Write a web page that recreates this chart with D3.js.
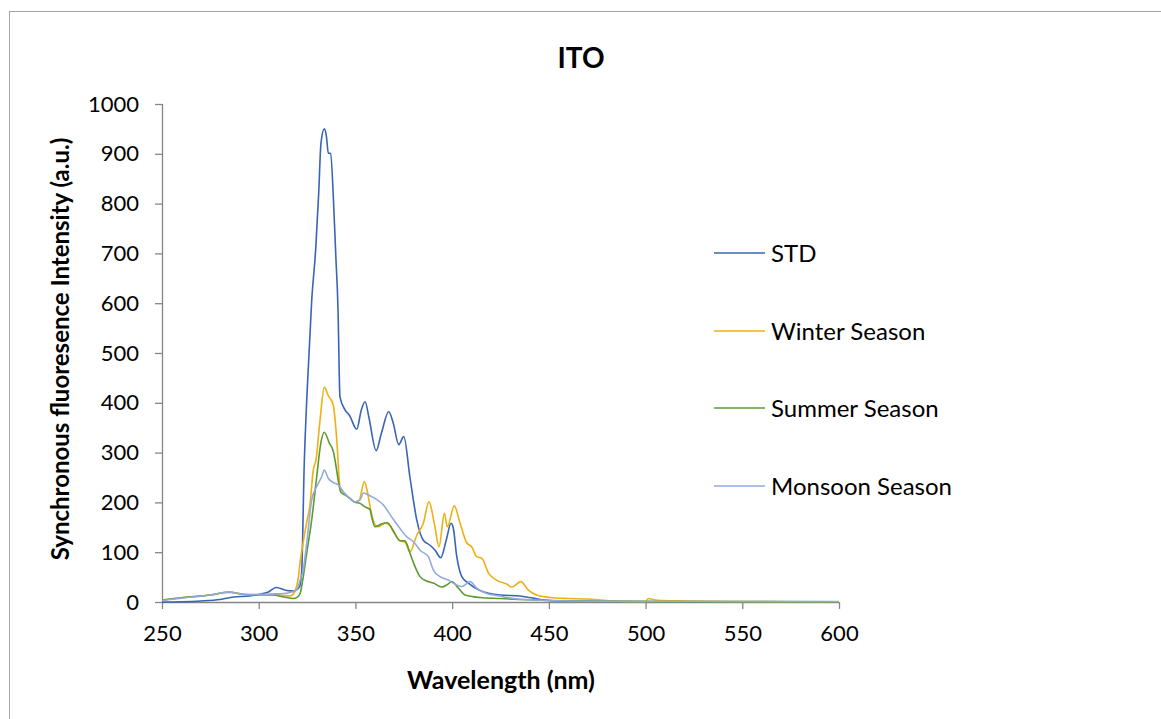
<!DOCTYPE html>
<html><head><meta charset="utf-8">
<script src="https://cdn.jsdelivr.net/npm/d3@7"></script>
<style>body{margin:0;background:#fff}svg{display:block}text{font-family:Lato,"Open Sans",sans-serif}</style>
</head><body>
<svg id="c" width="1161" height="719"></svg>
<script>
const seriesNames = ["STD","Winter Season","Summer Season","Monsoon Season"];
const seriesColors = ["#3A64B6","#EEB012","#5C9A34","#92ABDC"];
const xTicks = [250,300,350,400,450,500,550,600];
const yTicks = [0,100,200,300,400,500,600,700,800,900,1000];

const stdWl  = [250,260,270,280,287,295,300,305,309,314.5,318,321,322.2,323.5,325,327.4,329.5,331,332.2,333.9,335,336,337.2,338.6,339.8,341,342,344.6,346.9,350.7,353,355,357,360.7,363.5,367.2,369.5,372.4,375,378.2,381.7,385.1,388.6,391.2,394.1,397,399.4,400.5,402.4,405,408.4,414.4,424.8,435,440,445.5,455,470,500,550,600];
const stdVal = [0,0.5,2,5,10,12,15,20,29,23,22,30,60,272,420,606,711,820,922,950,935,901,901,811,700,588,412,386,375,347,385,402,370,304,340,382,360,316,332,250,165,124,114,104,89,125,158,150,91,51,38,23,14,12,9,5,2,1.5,1,0.5,0.5];

const winWl  = [250,261,275,284.3,293,300.7,307.5,313,316.2,318.5,320.5,321.4,323,324.8,326.5,328.2,329.6,331.7,333.9,336,338.5,340.3,342,343.7,347,350,352,354.6,356,357.9,360.1,361.8,365.3,367.9,369.6,373.1,375.6,378.2,381.7,385.1,388,390.8,393.2,396,397.5,401.1,404.1,407.5,410.1,412.7,415.3,418.8,423,428.2,430.8,435.5,439.4,443.7,450.6,460,469.6,480,490,500,501.5,505,509.2,520,540,600];
const winVal = [4,9,14,19,15,15,16,13,12,20,50,80,120,160,195,265,285,365,431,414,396,329,232,221,208,200,205,242,225,185,155,151,158,153,141,123,120,101,134,158,201,158,111,178,151,193,158,119,111,91,88,58,44,36,30,41,24,14,9,7,6,3,1,1,7,4,3,2,1,0.5];

const sumWl  = [250,261,275,284.3,293,300.7,307.5,313,317.9,320,321.4,323,324.8,327.4,330,332.1,333.9,336.5,338.6,340,341.2,342.4,344.6,347.2,349.4,352.4,355,357.5,358.4,360.1,363.6,366.5,369.6,373,375.6,378.2,380.8,383.4,386.8,390.3,394.6,397.5,399.8,403.2,406.7,414.4,424.8,435,450,470,500,600];
const sumVal = [4,9,14,20,15,14,14,10,7,10,17,50,98,165,252,319,341,319,302,272,242,221,215,208,201,198,191,186,171,151,157,159,143,123,123,98,71,51,42,38,30,35,41,28,14,9,7,5,3,2,1,0.5];

const monWl  = [250,261,275,284.3,293,300.7,307.5,313,317,319.6,321.4,323,324.8,327.4,330,332.6,333.9,336,338.6,341.2,343.8,346.3,349.8,352.4,354.1,356.7,360.1,364.4,368.7,372.4,376.5,380,383.4,387.7,390.3,393.7,398,402.4,405,409.3,412.7,417.9,424.8,428.2,442,460,500,600];
const monVal = [3,8,14,20,15,15,16,17,20,24,44,64,118,205,232,252,265,248,240,235,221,211,201,205,219,215,208,195,171,151,131,121,104,91,64,51,44,34,31,41,28,17,12,9,4,2,1,1];

const svg = d3.select("#c");
svg.append("rect").attr("x",9.5).attr("y",11.5).attr("width",1200).attr("height",800)
  .attr("fill","none").attr("stroke","#a6a6a6").attr("stroke-width",1);

const x = d3.scaleLinear().domain([250,600]).range([162,839]);
const y = d3.scaleLinear().domain([0,1000]).range([602,104]);

const axisColor = "#868686";
const tickFs = 22;
const legFs = 24;

const ya = svg.append("g").attr("transform","translate(162,0)")
  .call(d3.axisLeft(y).tickValues(yTicks).tickSize(7).tickPadding(16).tickFormat(d3.format("d")));
const xa = svg.append("g").attr("transform","translate(0,602)")
  .call(d3.axisBottom(x).tickValues(xTicks).tickSize(7).tickPadding(16).tickFormat(d3.format("d")));
[ya,xa].forEach(g=>{
  g.select(".domain").attr("stroke",axisColor).attr("stroke-width",1.3);
  g.selectAll(".tick line").attr("stroke",axisColor).attr("stroke-width",1.3);
  g.selectAll(".tick text").attr("fill","#000").style("font-size",tickFs+"px").style("font-family","Lato");
});
ya.select(".domain").attr("d","M0.5,602V104");
xa.select(".domain").attr("d","M162,0.5H839");

const seriesData = [
  d3.zip(stdWl,stdVal), d3.zip(winWl,winVal), d3.zip(sumWl,sumVal), d3.zip(monWl,monVal)
];
const line = d3.line().x(d=>x(d[0])).y(d=>y(d[1])).curve(d3.curveMonotoneX);
seriesData.forEach((data,i)=>{
  svg.append("path").datum(data).attr("d",line)
    .attr("fill","none").attr("stroke",seriesColors[i]).attr("stroke-width",1.6)
    .attr("stroke-linejoin","round");
});

svg.append("text").attr("x",581).attr("y",68).attr("text-anchor","middle")
  .style("font-weight","bold").style("font-size","28px").text("ITO");
svg.append("text").attr("x",501).attr("y",689).attr("text-anchor","middle")
  .style("font-weight","bold").style("font-size","25px").text("Wavelength (nm)");
svg.append("text").attr("transform","translate(69,349) rotate(-90)").attr("text-anchor","middle")
  .style("font-weight","bold").style("font-size","24px").text("Synchronous fluoresence Intensity (a.u.)");

const legY = [253,331,408,486];
seriesNames.forEach((n,i)=>{
  svg.append("line").attr("x1",714).attr("x2",765).attr("y1",legY[i]).attr("y2",legY[i])
    .attr("stroke",seriesColors[i]).attr("stroke-width",1.3);
  svg.append("text").attr("x",771).attr("y",legY[i]).attr("dy","0.36em")
    .style("font-size",legFs+"px").text(n);
});
</script>
</body></html>
